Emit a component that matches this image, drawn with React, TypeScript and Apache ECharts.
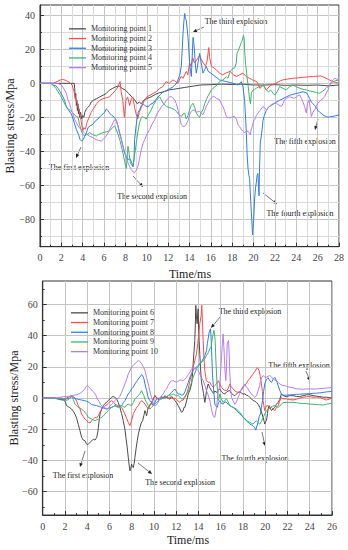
import React, { useEffect, useRef } from "react";
import * as echarts from "echarts";

const FONT = "'Liberation Serif', 'Times New Roman', serif";

// ---------- Data (time in ms, stress in MPa) ----------
const topNames = ["Monitoring point 1", "Monitoring point 2", "Monitoring point 3", "Monitoring point 4", "Monitoring point 5"];
const botNames = ["Monitoring point 6", "Monitoring point 7", "Monitoring point 8", "Monitoring point 9", "Monitoring point 10"];

const topYMajor = [-80, -60, -40, -20, 0, 20, 40];
const topYMinor = [-90, -70, -50, -30, -10, 10, 30];
const botYMajor = [-60, -40, -20, 0, 20, 40, 60];
const botYMinor = [-70, -50, -30, -10, 10, 30, 50, 70];

const p1 = [[0,0],[1,0],[2,0],[3.0,0],[3.2,0],[3.25,-3],[3.3,-9],[3.35,-6],[3.4,-13],[3.45,-10],[3.5,-16],[3.55,-12],[3.6,-18],[3.65,-15],[3.7,-20],[3.8,-17],[3.9,-21],[4.0,-19],[4.1,-20],[4.2,-17],[4.35,-15],[4.5,-14],[4.65,-13],[4.8,-11],[5.0,-10],[5.3,-9],[5.6,-8],[5.9,-7],[6.2,-6],[6.5,-4],[6.8,-3],[7.1,-2],[7.4,-1.5],[7.7,-3],[8.0,-4],[8.3,-6],[8.6,-8],[8.9,-10],[9.1,-12],[9.3,-11],[9.5,-12],[9.7,-10],[10.0,-9],[10.4,-8],[10.8,-6.5],[11.2,-5.5],[11.6,-5],[12.0,-4],[12.5,-3.5],[13.0,-3],[13.5,-2.5],[14.0,-2],[14.5,-1.5],[15.0,-1],[16,-0.8],[17,-0.5],[18,-0.7],[19,-0.5],[20,-1],[21,-1],[22,-0.8],[23,-1.2],[24,-1],[25,-1.2],[26,-1],[27,-1.5],[28,-1]];
const p2 = [[0,0],[1.2,0],[1.6,1],[1.9,2],[2.2,2.2],[2.5,1.5],[2.8,0.3],[3.0,-1],[3.15,-4],[3.3,-8],[3.5,-12],[3.7,-17],[3.85,-22],[4.0,-28],[4.1,-26],[4.25,-27],[4.4,-23],[4.6,-20],[4.8,-17],[5.0,-15],[5.3,-12],[5.6,-10],[5.9,-9],[6.2,-8.5],[6.5,-8],[6.8,-6],[7.1,-4],[7.3,-2],[7.5,1],[7.6,-5],[7.75,-10],[7.9,-20],[8.05,-10],[8.2,-8],[8.4,-13],[8.55,-9],[8.7,-8],[8.85,-14],[9.0,-18],[9.15,-21],[9.3,-17],[9.5,-14],[9.7,-11],[10.0,-8],[10.3,-7],[10.6,-6],[10.9,-5],[11.2,-3],[11.5,-2],[11.8,1],[12.1,0],[12.45,2],[12.7,1],[12.9,0],[13.2,4],[13.4,3],[13.7,7],[13.85,5],[14.0,12],[14.15,10],[14.3,15],[14.45,12],[14.6,13],[14.8,15],[14.95,16.5],[15.1,14],[15.3,12],[15.5,10],[15.65,13],[15.8,21],[15.9,15],[16.05,10],[16.3,9],[16.5,8],[16.8,6],[17.1,5],[17.4,6],[17.8,7],[18.1,5],[18.4,4],[18.7,5],[19.0,6],[19.3,4],[19.6,3],[19.9,2],[20.3,1],[20.6,-3],[20.9,-1],[21.2,-4],[21.45,-2],[21.7,-1],[22.1,0],[22.5,1.5],[22.75,2],[23.2,2.5],[23.7,3],[24.2,3.2],[24.6,3.5],[25.1,3.8],[25.6,4],[26.0,4.2],[26.3,4.3],[26.6,3.5],[27.0,2.3],[27.4,1],[27.7,0.5],[28,0]];
const p3 = [[0,0],[1.0,0],[1.22,-1],[1.5,-1.5],[1.69,-3],[1.9,-5],[2.15,-8],[2.3,-10],[2.47,-14],[2.7,-16],[2.93,-18],[3.1,-21],[3.25,-24],[3.4,-27],[3.6,-30],[3.75,-33],[3.9,-34],[4.05,-33],[4.2,-31],[4.35,-29],[4.5,-26],[4.7,-25],[4.96,-24],[5.2,-22],[5.43,-21],[5.7,-19],[5.9,-18],[6.05,-17],[6.21,-15],[6.35,-16],[6.52,-17.5],[6.75,-19],[6.99,-20],[7.15,-22],[7.3,-25],[7.46,-29],[7.62,-33],[7.77,-37],[7.93,-41],[8.08,-43],[8.24,-45],[8.4,-44],[8.55,-46],[8.71,-49],[8.8,-45],[8.86,-33],[9.0,-25],[9.1,-20],[9.2,-17],[9.33,-15.5],[9.5,-13],[9.64,-12],[9.8,-13],[10.11,-14],[10.3,-12.5],[10.58,-11.7],[10.8,-10],[11.05,-8],[11.3,-6.5],[11.52,-5],[11.8,-4.5],[12.14,-3],[12.4,-2.5],[12.61,-1],[12.8,0],[12.92,2],[13.1,5],[13.23,10],[13.32,20],[13.39,29],[13.47,36],[13.55,41],[13.62,38],[13.7,37],[13.78,32],[13.86,27],[13.93,20],[14.01,12],[14.1,7],[14.17,4],[14.25,15],[14.33,27],[14.4,24],[14.48,17.5],[14.56,10],[14.64,6],[14.8,12],[14.95,17.5],[15.1,12],[15.26,6],[15.42,8],[15.57,10],[15.75,7],[16.0,6],[16.2,5],[16.5,3.5],[16.82,2],[17.1,1.5],[17.45,1],[17.8,0.5],[18.07,0],[18.3,-0.5],[18.54,-1],[18.7,0],[18.85,1],[19.01,-2],[19.16,-10],[19.25,-20],[19.32,-29],[19.4,-42],[19.48,-50],[19.56,-54],[19.63,-56],[19.7,-65],[19.79,-76],[19.85,-82],[19.9,-89],[19.95,-85],[20.01,-80],[20.1,-68],[20.18,-62],[20.26,-58],[20.33,-54],[20.41,-53],[20.46,-60],[20.51,-66],[20.56,-50],[20.63,-35],[20.72,-31],[20.8,-27],[20.88,-22],[21.0,-19],[21.19,-16],[21.4,-14],[21.66,-13],[21.9,-12],[22.13,-11],[22.44,-10],[22.75,-9],[23.06,-8],[23.38,-7],[23.69,-6.5],[24.0,-6],[24.31,-5.5],[24.63,-5],[24.94,-5.5],[25.1,-7],[25.25,-9],[25.41,-11],[25.56,-12],[25.72,-13],[25.9,-14.5],[26.03,-16],[26.19,-17],[26.4,-18],[26.6,-19],[26.81,-19.5],[27.0,-20],[27.2,-19.5],[27.43,-19.5],[27.7,-19],[28,-18.5]];
const p4 = [[0,0],[1.0,0],[1.22,-1],[1.5,-3],[1.69,-5],[1.9,-7],[2.15,-10],[2.4,-13],[2.62,-15],[2.85,-16],[3.09,-17.5],[3.3,-19],[3.56,-20],[3.7,-24],[3.87,-28],[4.03,-30],[4.18,-31],[4.4,-30],[4.65,-29],[4.9,-30],[5.27,-31],[5.5,-30],[5.9,-29],[6.2,-28.5],[6.52,-28],[6.8,-26],[6.99,-25],[7.2,-28],[7.46,-33],[7.62,-37],[7.77,-41],[7.93,-46],[8.08,-50],[8.16,-44],[8.24,-37],[8.32,-40],[8.46,-47],[8.6,-48],[8.71,-49],[8.86,-42],[9.02,-35],[9.18,-28],[9.33,-23],[9.5,-20],[9.64,-19.5],[9.8,-20.5],[9.96,-21],[10.11,-19],[10.42,-15.6],[10.6,-13],[10.89,-10],[11.05,-9],[11.2,-8],[11.35,-9.5],[11.52,-11.7],[11.83,-13.6],[12.0,-14],[12.3,-14.6],[12.6,-15.5],[12.77,-16.5],[12.95,-18],[13.23,-19.5],[13.4,-18],[13.55,-17.5],[13.7,-21],[13.86,-19],[14.01,-15.6],[14.17,-13],[14.33,-11.7],[14.48,-14],[14.64,-17.5],[14.8,-19],[14.95,-20],[15.1,-17],[15.26,-15.6],[15.42,-12],[15.57,-9.7],[15.73,-7.5],[15.89,-5.8],[16.04,-4],[16.2,-2.9],[16.5,-1.5],[16.82,1],[17.13,2],[17.45,3.9],[17.6,3],[17.76,6],[17.92,7.8],[18.07,8.8],[18.23,9],[18.38,12],[18.45,17.5],[18.55,19],[18.7,21.4],[18.85,24],[18.95,25.3],[19.05,28.2],[19.12,26],[19.16,19.5],[19.24,12],[19.32,7.8],[19.4,3],[19.48,-1],[19.55,-5],[19.63,-9.7],[19.71,-12],[19.79,-5.8],[19.95,-4],[20.1,-3.5],[20.26,-2.9],[20.5,-2],[20.88,-1],[21.0,-2],[21.19,-3.9],[21.4,-5],[21.6,-4],[21.82,-5.8],[22.0,-7],[22.2,-5],[22.44,-1.9],[22.75,-3],[23.06,-3.9],[23.38,-2],[23.69,-1],[24.0,-2],[24.31,-2.9],[24.63,-3.5],[24.94,-3.9],[25.25,-4.5],[25.56,-4.9],[25.9,-5.5],[26.19,-5.8],[26.5,-4.5],[26.81,-2.9],[27.1,-1],[27.43,1],[27.7,1.5],[28,1.9]];
const p5 = [[0,0],[1.22,0],[1.6,0],[2.0,-1],[2.31,-3.9],[2.47,-6],[2.62,-9.7],[2.78,-12],[2.93,-15.6],[3.09,-18],[3.25,-21.4],[3.4,-23],[3.56,-25],[3.71,-26.3],[3.9,-27.5],[4.18,-29.2],[4.4,-30],[4.65,-31.1],[4.96,-32],[5.27,-33.1],[5.5,-33.5],[5.74,-34],[5.9,-33],[6.05,-32.1],[6.2,-31],[6.37,-29.2],[6.52,-27],[6.68,-25.3],[6.85,-23],[6.99,-21.4],[7.15,-22],[7.3,-25.3],[7.46,-30],[7.62,-33.1],[7.77,-37],[7.93,-40.9],[8.08,-44],[8.24,-46.7],[8.4,-49],[8.55,-50.6],[8.71,-52],[8.86,-52.5],[9.02,-51],[9.18,-48.6],[9.33,-44],[9.49,-38.9],[9.64,-35.5],[9.8,-33.1],[10.0,-30],[10.27,-27.2],[10.5,-24],[10.74,-21.4],[10.95,-18],[11.2,-15.6],[11.4,-13.5],[11.67,-11.7],[11.83,-10],[11.99,-8.8],[12.14,-8],[12.3,-7.8],[12.45,-8.8],[12.61,-9.7],[12.77,-12],[12.92,-15.6],[13.08,-20],[13.23,-24.3],[13.39,-25.3],[13.55,-25.3],[13.7,-24],[13.86,-22],[14.01,-18.5],[14.17,-16.5],[14.33,-15.6],[14.5,-16],[14.64,-17],[14.95,-16.5],[15.1,-17.5],[15.26,-18.5],[15.42,-16],[15.57,-13.6],[15.73,-11.7],[15.89,-9.7],[16.04,-8.5],[16.2,-7.8],[16.35,-8],[16.51,-8.8],[16.82,-9.7],[16.98,-12],[17.13,-13.6],[17.3,-16.5],[17.45,-19.5],[17.6,-20],[17.76,-20.4],[17.92,-20],[18.07,-19.5],[18.23,-19.5],[18.38,-21],[18.54,-24.3],[18.7,-25.5],[18.85,-27.2],[19.01,-28],[19.16,-29.2],[19.32,-28],[19.48,-28.2],[19.63,-29.5],[19.69,-30.2],[19.79,-27],[19.88,-25.3],[20.01,-22],[20.1,-21.4],[20.26,-19],[20.41,-17.5],[20.6,-16],[20.88,-13.6],[21.05,-14.5],[21.19,-15.6],[21.4,-14],[21.66,-12.6],[21.82,-12],[22.13,-11.7],[22.3,-12.5],[22.6,-13.6],[22.75,-12],[22.91,-9.7],[23.1,-8.8],[23.38,-7.8],[23.6,-8.5],[23.85,-8.8],[24.1,-7.5],[24.31,-6.8],[24.5,-9],[24.78,-13.6],[24.94,-17.5],[25.05,-12],[25.19,-9.7],[25.3,-14],[25.41,-19.5],[25.56,-17],[25.72,-15.6],[25.9,-13],[26.03,-11.7],[26.19,-10.5],[26.34,-9.7],[26.5,-9],[26.65,-7.8],[26.81,-5.8],[26.97,-3.9],[27.13,-1],[27.28,1],[27.43,2],[27.59,2.9],[27.8,2.5],[28,1.9]];

const p6 = [[0,0],[0.96,0],[1.4,-0.5],[1.86,-1.3],[2.0,-2],[2.15,-4.9],[2.4,-6],[2.6,-7.1],[2.75,-8.5],[2.9,-10.3],[3.05,-13],[3.2,-17],[3.35,-21],[3.5,-25.3],[3.65,-27],[3.8,-27.4],[3.9,-29],[4.01,-30],[4.1,-29.5],[4.25,-28.5],[4.4,-27.5],[4.55,-26.4],[4.7,-27],[4.85,-25.3],[4.95,-22],[5.0,-19],[5.08,-14],[5.15,-10.3],[5.3,-7],[5.45,-4.9],[5.6,-3.5],[5.75,-2.8],[5.9,-1.5],[6.04,-0.6],[6.2,0.5],[6.34,1],[6.5,0.4],[6.64,-0.6],[6.8,-3],[6.94,-6],[7.09,-10],[7.24,-14.6],[7.39,-20],[7.48,-25.3],[7.6,-32],[7.69,-38],[7.77,-43],[7.84,-46.7],[7.92,-45],[7.99,-42.4],[8.07,-44],[8.14,-44.6],[8.22,-42],[8.29,-38.1],[8.4,-32],[8.5,-27.4],[8.6,-23],[8.74,-18.9],[8.85,-16],[8.98,-14.6],[9.1,-11],[9.19,-8.1],[9.28,-10],[9.34,-11.4],[9.42,-8],[9.49,-6],[9.63,-4.5],[9.78,-2.8],[9.93,-0.5],[10.08,1.5],[10.23,0.2],[10.38,-1],[10.53,-0.6],[10.7,1],[10.83,0],[10.98,1.5],[11.13,0.4],[11.28,0],[11.43,-0.8],[11.58,0.9],[11.73,0],[11.88,-1.7],[12.03,-3],[12.18,-4.9],[12.33,-7],[12.48,-9.2],[12.6,-8.5],[12.7,-6],[12.78,-6],[12.93,-2],[13.08,2.6],[13.23,5],[13.38,9],[13.45,14],[13.52,21.9],[13.6,30],[13.67,36.9],[13.72,48],[13.76,59.4],[13.82,52],[13.88,47.6],[13.92,53],[13.97,57.2],[14.01,45],[14.06,36.9],[14.12,28],[14.18,19.7],[14.25,12],[14.3,9],[14.36,6.9],[14.45,3],[14.57,-2.8],[14.64,0],[14.72,4.7],[14.8,7],[14.87,9],[15.02,6.5],[15.17,4.7],[15.35,3],[15.47,4.5],[15.62,3.6],[15.77,5],[15.92,5.8],[16.07,4],[16.22,3],[16.37,2.6],[16.52,3.8],[16.67,4.5],[16.82,4.7],[16.97,3],[17.12,2],[17.27,1.5],[17.41,2.5],[17.56,3.6],[17.71,3.8],[17.86,3.2],[18.01,2.5],[18.16,2.6],[18.31,1.8],[18.46,1.5],[18.61,0.4],[18.76,-0.5],[18.91,-1.7],[19.06,-2],[19.21,-2.8],[19.36,-4],[19.51,-6],[19.66,-9],[19.81,-12.4],[19.9,-15],[19.96,-16.7],[20.04,-15],[20.11,-14.6],[20.2,-10],[20.26,-7],[20.35,-4.9],[20.45,-6.5],[20.56,-8.1],[20.71,-7],[20.86,-6],[21.01,-4],[21.16,-2.8],[21.3,-1],[21.45,2.6],[21.6,1.5],[21.9,0.9],[22.2,1.5],[22.5,1.5],[22.8,1],[23.1,0.9],[23.4,1.5],[23.7,2],[24.0,2.1],[24.3,1.5],[24.6,1.2],[24.9,0.9],[25.2,0.5],[25.5,0.5],[25.8,0.2],[26,0]];
const p7 = [[0,0],[0.96,0],[1.3,-0.5],[1.56,-0.6],[1.86,-0.5],[2.15,0],[2.4,1],[2.6,1.5],[2.75,1],[2.9,0],[3.05,-2],[3.2,-4.9],[3.35,-7],[3.5,-10.3],[3.65,-12],[3.8,-13.5],[3.95,-14.5],[4.1,-15.6],[4.25,-16],[4.4,-14.6],[4.55,-13.5],[4.7,-12.4],[4.85,-12.8],[5.0,-11.4],[5.15,-9],[5.3,-7.1],[5.45,-6],[5.6,-4.9],[5.75,-4.5],[5.89,-3.4],[6.04,-2.5],[6.19,-1.7],[6.34,-2.5],[6.49,-3.9],[6.64,-4.5],[6.79,-4.9],[6.94,-5.5],[7.09,-6],[7.24,-8],[7.39,-10.3],[7.54,-13],[7.69,-15.6],[7.84,-17.8],[7.92,-16],[7.99,-14.6],[8.14,-10],[8.29,-8.1],[8.44,-6],[8.59,-4.9],[8.74,-3],[8.89,-1.7],[9.04,-2.5],[9.19,-3.9],[9.34,-5.5],[9.49,-7.1],[9.63,-5],[9.78,-3.9],[9.93,-1.5],[10.08,1.5],[10.23,0.5],[10.38,-0.5],[10.53,-0.6],[10.7,0.5],[10.83,-0.3],[10.98,0],[11.13,0.5],[11.28,-0.5],[11.43,0.9],[11.58,0],[11.73,-0.5],[11.88,0],[12.03,-1],[12.18,-2],[12.33,-2.8],[12.48,-1.5],[12.63,-1.3],[12.78,0.5],[12.93,2.6],[13.08,6],[13.23,11.1],[13.38,15],[13.52,19.7],[13.67,24],[13.82,28.3],[13.94,35],[14.06,43.3],[14.12,47.6],[14.18,47.6],[14.24,53],[14.3,59.4],[14.36,48],[14.42,36.9],[14.5,25],[14.57,17.6],[14.64,14],[14.72,11.1],[14.87,10],[15.02,10.1],[15.17,8],[15.32,6.9],[15.47,8],[15.62,9],[15.77,11.1],[15.92,9],[16.07,6.9],[16.22,5.5],[16.37,5],[16.52,4.7],[16.67,6],[16.82,9],[16.97,7],[17.12,5.8],[17.27,4.5],[17.41,4],[17.56,3.6],[17.71,4],[17.86,5],[18.01,6.9],[18.16,8],[18.31,9.5],[18.46,11.1],[18.61,12.5],[18.76,14],[18.91,15.4],[19.06,17],[19.21,18.6],[19.3,19.5],[19.45,17.6],[19.55,14],[19.66,9],[19.75,4],[19.81,-1.7],[19.88,-5],[19.96,-8.1],[20.05,-6],[20.11,-5],[20.26,-4.9],[20.4,-6],[20.56,-6],[20.71,-7],[20.86,-8.1],[21.01,-6],[21.16,-4.9],[21.3,-2],[21.45,0.4],[21.6,-0.5],[21.9,-0.6],[22.2,-1],[22.5,-1.3],[22.8,-0.8],[23.1,0],[23.4,0.5],[23.7,0.8],[24.0,0.9],[24.3,0.5],[24.6,0.6],[24.9,0.4],[25.2,-0.5],[25.49,-1.3],[25.75,-0.8],[26,0]];
const p8 = [[0,0],[0.96,0],[1.3,-0.5],[1.71,-1.3],[2.0,-1],[2.15,-0.6],[2.4,0],[2.6,0.9],[2.75,0.2],[3.05,-0.6],[3.3,-1],[3.5,-1.3],[3.75,-1.7],[3.95,-2.1],[4.2,-3],[4.4,-4.3],[4.6,-4.5],[4.85,-4.9],[5.1,-5.5],[5.3,-6],[5.5,-6.5],[5.75,-7.1],[5.95,-6.5],[6.19,-6],[6.35,-5.5],[6.49,-4.9],[6.64,-5.5],[6.79,-6],[6.94,-5.5],[7.09,-4.9],[7.24,-3],[7.39,-1.7],[7.54,0.5],[7.69,2.6],[7.84,4],[7.99,5.8],[8.14,7],[8.29,9],[8.44,10.5],[8.59,12.2],[8.74,13.5],[8.89,15],[8.98,14.5],[9.1,12.2],[9.19,9],[9.34,4.7],[9.49,0],[9.63,-1.7],[9.78,-3],[9.93,-4.9],[10.08,-3],[10.23,-0.6],[10.38,-0.3],[10.53,0],[10.68,-0.6],[10.83,0.4],[10.98,0],[11.13,0.4],[11.28,1.5],[11.43,2.6],[11.58,3.6],[11.73,4.7],[11.88,5.8],[12.03,4],[12.18,2.5],[12.33,2.6],[12.48,1.8],[12.63,2.1],[12.78,4],[12.93,6.9],[13.08,10],[13.23,13.3],[13.38,15.5],[13.52,17.6],[13.67,19],[13.82,19.7],[13.97,21],[14.12,21.9],[14.27,23],[14.42,25.1],[14.57,27],[14.72,30.4],[14.8,35],[14.87,38],[14.96,42.2],[15.02,43],[15.08,44.4],[15.14,38],[15.2,26.1],[15.26,15],[15.32,9],[15.4,2],[15.47,-3.9],[15.55,-5],[15.68,-6],[15.8,-3],[15.92,-1.7],[16.07,-3.5],[16.22,-3.9],[16.37,-2.5],[16.52,-2.8],[16.67,-4],[16.82,-4.9],[16.97,-5.5],[17.12,-6],[17.27,-7],[17.41,-8.1],[17.56,-9],[17.71,-10.3],[17.86,-11],[18.01,-12.4],[18.16,-13],[18.31,-14.6],[18.46,-15.5],[18.61,-16.7],[18.76,-17.2],[18.91,-17.8],[19.06,-19],[19.15,-20.6],[19.25,-18],[19.36,-15.6],[19.45,-12],[19.57,-10.3],[19.66,-6],[19.75,-1.7],[19.85,4],[19.96,9],[20.11,12],[20.26,13],[20.41,11],[20.56,10],[20.71,12],[20.86,13.2],[20.95,12],[21.07,10],[21.16,8],[21.3,5],[21.45,2.6],[21.6,1.8],[21.9,1.8],[22.2,2],[22.5,2.1],[22.8,2.3],[23.1,2.4],[23.4,2.6],[23.7,2.7],[24.0,2.8],[24.3,3],[24.6,3.1],[24.9,3.3],[25.2,3.6],[25.5,3.9],[25.8,4.1],[26,4.3]];
const p9 = [[0,0],[0.96,0],[1.3,-0.3],[1.71,0],[2.0,-1],[2.15,-1.7],[2.4,-0.5],[2.6,0.9],[2.75,-1],[2.9,-3.9],[3.05,-5],[3.2,-6],[3.35,-6.5],[3.5,-7.1],[3.65,-8],[3.8,-9.2],[3.95,-10.5],[4.1,-12.4],[4.25,-13],[4.4,-13.5],[4.55,-14],[4.7,-14.6],[4.85,-14],[5.0,-13.5],[5.15,-13],[5.3,-12.4],[5.45,-11.5],[5.6,-10.3],[5.75,-9],[5.89,-8.1],[6.04,-7],[6.19,-6],[6.34,-5.5],[6.49,-4.9],[6.64,-5.2],[6.79,-5.6],[6.94,-5],[7.09,-4.9],[7.24,-5.5],[7.39,-6],[7.54,-4.5],[7.69,-3.9],[7.84,-4.5],[7.99,-4.9],[8.14,-3],[8.29,-0.6],[8.44,0.5],[8.59,1.5],[8.74,3],[8.89,4.7],[8.98,3],[9.1,1.5],[9.19,-1],[9.34,-2.8],[9.49,-5],[9.63,-7.1],[9.78,-6],[9.93,-4.9],[10.08,-4],[10.23,-3],[10.38,-1.7],[10.53,-1],[10.68,-0.5],[10.83,0],[10.98,0.5],[11.13,0.8],[11.28,1.5],[11.43,1.8],[11.58,2.1],[11.73,2.6],[11.88,2],[12.03,1.5],[12.18,1.5],[12.33,0.5],[12.48,-0.5],[12.63,-0.6],[12.78,1],[12.93,2.6],[13.08,4],[13.23,6.9],[13.38,10],[13.52,13.3],[13.67,16],[13.82,18.6],[13.97,20],[14.12,21.9],[14.27,23],[14.42,24],[14.57,25],[14.72,27.2],[14.87,29],[15.02,31.5],[15.14,33],[15.26,39],[15.32,41],[15.38,43.3],[15.44,41],[15.5,36.9],[15.56,25],[15.62,15.4],[15.7,5],[15.77,-1.7],[15.85,0],[15.92,2.6],[16.07,-1],[16.22,-2.8],[16.37,-1.5],[16.52,-0.6],[16.67,-2.5],[16.82,-4.9],[16.97,-5.5],[17.12,-6],[17.27,-6.5],[17.41,-7.1],[17.56,-8],[17.71,-9.2],[17.86,-10.5],[18.01,-12.4],[18.16,-13.5],[18.31,-14.6],[18.46,-15],[18.61,-15.6],[18.76,-16.2],[18.91,-16.7],[19.06,-15.5],[19.21,-14.6],[19.36,-15.8],[19.51,-16.7],[19.66,-15],[19.81,-12.4],[19.96,-10.3],[20.11,-8.1],[20.26,-7.5],[20.47,-6],[20.66,-5.2],[20.86,-4.9],[21.01,-5.5],[21.16,-6],[21.3,-5.2],[21.45,-3.9],[21.6,-3],[21.9,-2.8],[22.2,-2.8],[22.5,-2.8],[22.8,-3],[23.1,-3.4],[23.4,-3.5],[23.7,-3.6],[24.0,-3.9],[24.3,-4],[24.6,-4.2],[24.9,-4.3],[25.2,-4.5],[25.5,-4],[25.8,-3.6],[26,-3.4]];
const p10 = [[0,0],[0.96,0],[1.3,0.3],[1.6,0.5],[1.86,0.9],[2.15,0.9],[2.3,0.9],[2.5,1.3],[2.75,1.5],[2.9,2],[3.05,2.1],[3.2,2.6],[3.4,3.2],[3.65,4.7],[3.8,6],[3.9,7.2],[4.01,8],[4.15,7],[4.31,5.8],[4.46,4.5],[4.61,3.6],[4.76,2],[4.91,-0.6],[5.06,-2],[5.21,-4.3],[5.36,-5.5],[5.51,-6],[5.65,-6.5],[5.8,-7.1],[5.95,-6],[6.19,-3.9],[6.34,-3],[6.49,-1.7],[6.64,-0.6],[6.79,0],[6.94,1],[7.09,3.6],[7.24,6],[7.39,9],[7.54,12],[7.69,15.4],[7.84,17.5],[7.99,19.7],[8.14,21],[8.29,21.9],[8.44,23],[8.59,24],[8.74,23.5],[8.89,21.9],[9.04,20],[9.19,17.6],[9.34,13],[9.49,9],[9.63,4.5],[9.78,0.4],[9.93,-3],[10.08,-4.9],[10.23,-4.3],[10.38,-2.8],[10.53,0],[10.68,1.5],[10.83,2.6],[10.98,4.7],[11.13,5.8],[11.28,8],[11.43,10.1],[11.58,11],[11.73,11.1],[11.88,10.5],[12.03,10.1],[12.18,10.8],[12.33,11.6],[12.48,11.5],[12.63,11.1],[12.78,12],[12.93,13.3],[13.08,15],[13.23,16.5],[13.38,18.5],[13.52,19.7],[13.67,19],[13.82,18.6],[13.97,17.5],[14.12,15.4],[14.27,13],[14.42,11.1],[14.57,8],[14.72,4.7],[14.87,2],[15.02,-1.7],[15.14,-6],[15.26,-10.3],[15.36,-12],[15.47,-12.4],[15.55,-9],[15.62,-6],[15.7,-1],[15.77,3.6],[15.85,6],[15.92,9],[16.0,18],[16.07,26.1],[16.15,35],[16.22,41.1],[16.28,33],[16.34,24],[16.4,16],[16.46,11.1],[16.52,20],[16.58,34.7],[16.64,36],[16.7,36.9],[16.76,28],[16.82,15.4],[16.9,5],[16.97,0.4],[17.12,-2],[17.27,-4],[17.41,-2.5],[17.56,0.4],[17.71,3],[17.86,5.8],[18.01,7.5],[18.16,9],[18.31,7],[18.46,5.8],[18.61,4],[18.76,2.6],[18.91,1.5],[19.06,0.4],[19.21,1.5],[19.36,4.7],[19.5,8],[19.57,11.1],[19.66,13],[19.81,14.4],[19.96,13.5],[20.11,13.3],[20.26,14],[20.41,14.4],[20.56,13.5],[20.71,12.2],[20.86,11.5],[21.01,11.1],[21.16,10],[21.3,9],[21.45,8.5],[21.6,8],[21.75,7.9],[21.9,7.5],[22.2,6.9],[22.5,6.5],[22.8,5.8],[23.1,5.8],[23.4,5.6],[23.7,5.8],[24.0,5.8],[24.3,5.8],[24.6,5.8],[24.9,6],[25.2,6.2],[25.49,6.4],[25.8,6.6],[26,6.9]];

const topSeriesData = [p1, p2, p3, p4, p5];
const botSeriesData = [p6, p7, p8, p9, p10];

// ---------- Styling / layout ----------
const COLORS = ["#4a4a4a", "#ff4a4a", "#2f7de6", "#3db56a", "#b57cf6"];

const annotations = [
  { text: "The first explosion", tx: 79, ty: 167, a: [81, 147, 76, 158] },
  { text: "The second explosion", tx: 152, ty: 196, a: [133, 176, 143, 187] },
  { text: "The third explosion", tx: 236, ty: 21, a: [204, 27, 193, 32] },
  { text: "The fourth explosion", tx: 300, ty: 213, a: [263, 193, 277, 204] },
  { text: "The fifth explosion", tx: 305, ty: 141, a: [318, 119, 315, 130] },
  { text: "The first explosion", tx: 83, ty: 475, a: [85, 451, 80, 467] },
  { text: "The second explosion", tx: 180, ty: 482, a: [138, 463, 152, 474] },
  { text: "The third explosion", tx: 250, ty: 311, a: [220, 317, 211, 328] },
  { text: "The fourth explosion", tx: 255, ty: 458, a: [262, 432, 265, 446] },
  { text: "The fifth explosion", tx: 299, ty: 365, a: [306, 371, 310, 381] },
];

function arrow(x1: number, y1: number, x2: number, y2: number) {
  const ang = Math.atan2(y2 - y1, x2 - x1);
  const L = 4, W = 1.8;
  const bx = x2 - L * Math.cos(ang), by = y2 - L * Math.sin(ang);
  const s = Math.sin(ang), c = Math.cos(ang);
  return [
    { type: "line", silent: true, shape: { x1, y1, x2: bx, y2: by }, style: { stroke: "#555", lineWidth: 0.8 } },
    { type: "polygon", silent: true, shape: { points: [[x2, y2], [bx - W * s, by + W * c], [bx + W * s, by - W * c]] }, style: { fill: "#222" } },
  ];
}

const fmt = (v: number) => (v < 0 ? "\u2212" + Math.abs(v) : String(v));

const MAJOR_GRID = "#c4c4c4";
const MINOR_GRID = "#dadada";

function xAxisCfg(grid: number, max: number, minorGrid: boolean) {
  return {
    type: "value", gridIndex: grid, min: 0, max, interval: 2,
    axisLine: { onZero: false, lineStyle: { color: "#333", width: 1.2 } },
    axisTick: { inside: true, length: 4, lineStyle: { color: "#333" } },
    minorTick: { show: true, splitNumber: 2, length: 2, lineStyle: { color: "#333" } },
    splitLine: { show: true, lineStyle: { color: MAJOR_GRID, width: 1 } },
    minorSplitLine: { show: minorGrid, lineStyle: { color: MINOR_GRID, width: 1 } },
    axisLabel: { fontFamily: FONT, fontSize: 10, color: "#444", margin: 6, formatter: fmt },
  };
}

function yAxisMajor(grid: number, min: number, max: number, vals: number[]) {
  return {
    type: "value", gridIndex: grid, min, max, position: "left",
    axisLine: { onZero: false, lineStyle: { color: "#333", width: 1.2 } },
    axisTick: { inside: true, length: 4, customValues: vals, lineStyle: { color: "#333" } },
    splitLine: { show: true, lineStyle: { color: MAJOR_GRID, width: 1 } },
    axisLabel: { fontFamily: FONT, fontSize: 10, color: "#444", margin: 5, customValues: vals, formatter: fmt },
  };
}

function yAxisMinor(grid: number, min: number, max: number, vals: number[], minorGrid: boolean) {
  return {
    type: "value", gridIndex: grid, min, max, position: "left",
    axisLine: { show: false, onZero: false },
    axisTick: { show: true, inside: true, length: 2, customValues: vals, lineStyle: { color: "#333" } },
    splitLine: { show: minorGrid, lineStyle: { color: MINOR_GRID, width: 1 } },
    axisLabel: { show: false, customValues: vals },
  };
}

export default function App() {
  const ref = useRef<HTMLDivElement>(null);
  useEffect(() => {
    if (!ref.current) return;
    const chart = echarts.init(ref.current, undefined, { renderer: "svg" });
    const series: any[] = [];
    topSeriesData.forEach((d, i) => series.push({
      name: topNames[i], type: "line", xAxisIndex: 0, yAxisIndex: 0, data: d,
      symbol: "none", showSymbol: false, lineStyle: { color: COLORS[i], width: 1 }, itemStyle: { color: COLORS[i] },
    }));
    botSeriesData.forEach((d, i) => series.push({
      name: botNames[i], type: "line", xAxisIndex: 1, yAxisIndex: 2, data: d,
      symbol: "none", showSymbol: false, lineStyle: { color: COLORS[i], width: 1 }, itemStyle: { color: COLORS[i] },
    }));

    const graphics: any[] = [];
    annotations.forEach((a) => {
      graphics.push({ type: "text", silent: true, x: a.tx, y: a.ty, style: { text: a.text, fontFamily: FONT, fontSize: 8, fill: "#222", align: "center", verticalAlign: "middle" } });
      arrow(a.a[0], a.a[1], a.a[2], a.a[3]).forEach((g) => graphics.push(g));
    });
    const titles = [
      { t: "Blasting stress/Mpa", x: 10, y: 126, r: Math.PI / 2 },
      { t: "Time/ms", x: 190, y: 274, r: 0 },
      { t: "Blasting stress/Mpa", x: 14, y: 398, r: Math.PI / 2 },
      { t: "Time/ms", x: 188, y: 540, r: 0 },
    ];
    titles.forEach((t) => graphics.push({ type: "text", silent: true, x: t.x, y: t.y, rotation: t.r, style: { text: t.t, fontFamily: FONT, fontSize: 12, fill: "#222", align: "center", verticalAlign: "middle" } }));

    const legendCommon = {
      orient: "vertical", icon: "rect", itemWidth: 17, itemHeight: 1.3, itemGap: 0,
      textStyle: { fontFamily: FONT, fontSize: 8, color: "#333", lineHeight: 9.7 },
      selectedMode: false,
    };

    chart.setOption({
      animation: false,
      backgroundColor: "#fff",
      grid: [
        { left: 40, top: 5, width: 299, height: 241.7, show: true, borderColor: "#333", borderWidth: 1, containLabel: false },
        { left: 42.7, top: 281, width: 289.3, height: 234, show: true, borderColor: "#333", borderWidth: 1, containLabel: false },
      ],
      legend: [
        { ...legendCommon, left: 64, top: 19, data: topNames },
        { ...legendCommon, left: 66, top: 303, data: botNames },
      ],
      xAxis: [xAxisCfg(0, 28, true), xAxisCfg(1, 26, false)],
      yAxis: [
        yAxisMajor(0, -96, 46, topYMajor),
        yAxisMinor(0, -96, 46, topYMinor, true),
        yAxisMajor(1, -75, 75, botYMajor),
        yAxisMinor(1, -75, 75, botYMinor, false),
      ],
      series,
      graphic: graphics,
    });
    return () => chart.dispose();
  }, []);
  return <div ref={ref} style={{ position: "absolute", left: 0, top: 0, width: 348, height: 550 }} />;
}
